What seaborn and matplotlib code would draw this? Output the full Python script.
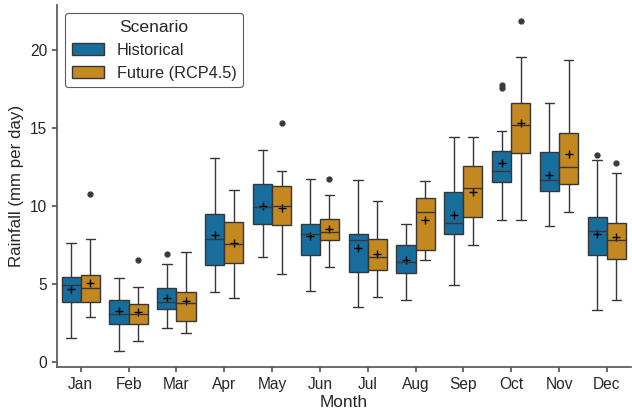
import numpy as np
import pandas as pd
import matplotlib
matplotlib.use("Agg")
import matplotlib.pyplot as plt
import seaborn as sns

months = ["Jan", "Feb", "Mar", "Apr", "May", "Jun", "Jul", "Aug", "Sep", "Oct", "Nov", "Dec"]
scenarios = ["Historical", "Future (RCP4.5)"]

# Historical box statistics (mm per day)
hist_lo = [1.54, 0.73, 2.19, 4.50, 6.69, 4.55, 3.54, 3.95, 4.95, 9.11, 8.68, 3.31]
hist_q1 = [3.86, 2.40, 3.37, 6.20, 8.81, 6.86, 5.79, 5.68, 8.21, 11.54, 10.93, 6.82]
hist_med = [4.91, 3.09, 3.86, 7.85, 9.93, 8.17, 7.83, 6.39, 8.90, 12.20, 11.67, 8.36]
hist_q3 = [5.47, 3.95, 4.74, 9.45, 11.36, 8.83, 8.21, 7.49, 10.85, 13.50, 13.44, 9.31]
hist_hi = [7.59, 5.40, 6.24, 13.04, 13.59, 11.68, 11.64, 8.81, 14.37, 14.79, 16.57, 12.91]
hist_mean = [4.69, 3.26, 4.10, 8.10, 9.97, 8.04, 7.29, 6.52, 9.43, 12.73, 11.96, 8.21]
hist_out = [[], [], [6.88], [], [], [], [], [], [], [17.55, 17.70], [], [13.23]]

# Future (RCP4.5) box statistics (mm per day)
fut_lo = [2.87, 1.37, 1.85, 4.12, 5.66, 6.07, 4.18, 6.54, 7.46, 9.07, 9.61, 3.95]
fut_q1 = [3.84, 2.40, 2.62, 6.33, 8.75, 7.81, 5.88, 7.16, 9.26, 13.40, 11.36, 6.60]
fut_med = [4.72, 3.09, 3.77, 7.52, 10.01, 8.32, 6.69, 9.63, 11.11, 15.16, 12.46, 7.78]
fut_q3 = [5.56, 3.69, 4.50, 8.98, 11.28, 9.16, 7.87, 10.48, 12.57, 16.57, 14.66, 8.87]
fut_hi = [7.87, 4.78, 7.01, 11.02, 12.24, 10.68, 10.32, 11.58, 14.37, 19.53, 19.34, 12.11]
fut_mean = [5.06, 3.20, 3.92, 7.61, 9.84, 8.53, 6.93, 9.11, 10.89, 15.27, 13.29, 8.02]
fut_out = [[10.72], [6.52], [], [], [15.27], [11.70], [], [], [], [21.80], [], [12.73]]


def sample(lo, q1, med, q3, hi, out):
    # sample whose quartiles, whisker ends and outliers reproduce the box stats
    return [lo] + [q1] * 20 + [med] * 9 + [q3] * 20 + [hi] + list(out)


rows = []
means = []
stats = {
    "Historical": (hist_lo, hist_q1, hist_med, hist_q3, hist_hi, hist_mean, hist_out),
    "Future (RCP4.5)": (fut_lo, fut_q1, fut_med, fut_q3, fut_hi, fut_mean, fut_out),
}
for i, m in enumerate(months):
    for s in scenarios:
        lo, q1, md, q3, hi, mn, out = stats[s]
        for v in sample(lo[i], q1[i], md[i], q3[i], hi[i], out[i]):
            rows.append({"Month": m, "Scenario": s, "Rainfall": v})
        means.append({"Month": m, "Scenario": s, "Rainfall": mn[i]})
df = pd.DataFrame(rows)
df_mean = pd.DataFrame(means)

sns.set_theme(style="ticks", context="notebook",
              rc={"axes.edgecolor": "0.35", "xtick.major.size": 3.5,
                  "ytick.major.size": 3.5, "xtick.color": "0.35",
                  "ytick.color": "0.35", "xtick.labelcolor": "0.15",
                  "ytick.labelcolor": "0.15"})
plt.rcParams["font.family"] = ["Liberation Sans", "DejaVu Sans"]

fig, ax = plt.subplots(figsize=(6.32, 4.11), dpi=100)
sns.boxplot(data=df, x="Month", y="Rainfall", hue="Scenario", order=months,
            hue_order=scenarios, palette="colorblind", ax=ax,
            flierprops={"marker": "o", "markersize": 3.5,
                        "markerfacecolor": "#3a3a3a", "markeredgecolor": "#3a3a3a"})
sns.pointplot(data=df_mean, x="Month", y="Rainfall", hue="Scenario", order=months,
              hue_order=scenarios, palette=["black", "black"], markers="+",
              linestyles="none", dodge=0.4, errorbar=None, legend=False,
              markersize=6, markeredgewidth=1.0, ax=ax)

ax.set_xlabel("Month", fontsize=12.4, labelpad=2)
ax.set_ylabel("Rainfall (mm per day)", fontsize=12.2)
ax.set_yticks([0, 5, 10, 15, 20])
ax.tick_params(labelsize=11.2)
sns.despine(ax=ax)
leg = ax.legend(title="Scenario", loc="upper left", frameon=True,
                fontsize=11.7, title_fontsize=12.6)
leg.get_frame().set_edgecolor("0.2")
leg.get_frame().set_linewidth(0.8)

fig.subplots_adjust(left=0.09, right=0.998, bottom=0.107, top=0.988)
fig.savefig("out.png", dpi=100)
